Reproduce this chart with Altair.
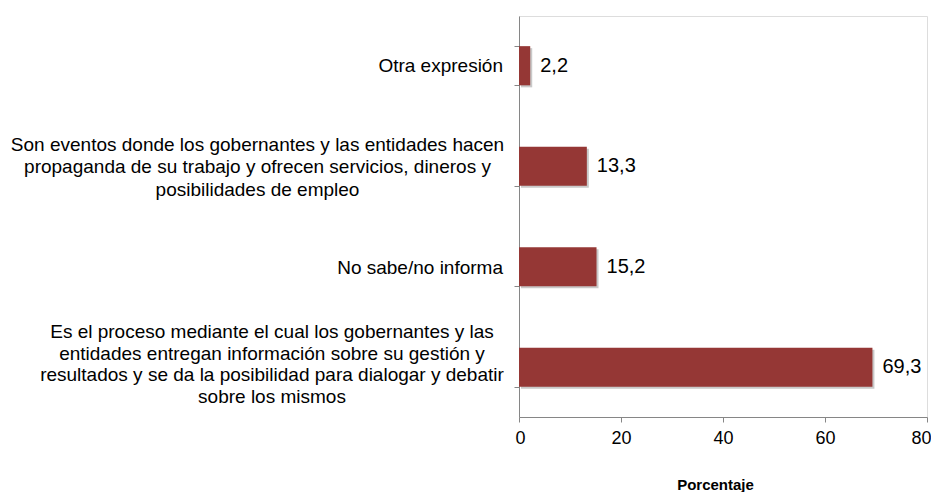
import altair as alt
import pandas as pd

categories = [
    "Otra expresión",
    "Son eventos donde los gobernantes y las entidades hacen|propaganda de su trabajo y  ofrecen servicios, dineros y|posibilidades de empleo",
    "No sabe/no informa",
    "Es el proceso mediante el cual los gobernantes y las|entidades entregan información sobre su gestión y|resultados y se da la posibilidad para dialogar y debatir|sobre los mismos",
]
values = [2.2, 13.3, 15.2, 69.3]
value_labels = [f"{v:.1f}".replace(".", ",") for v in values]
x_ticks = [0, 20, 40, 60, 80]

# label styles (alignment / offsets / line height) per category
label_align = ["right", "center", "right", "center"]
label_baseline = ["middle", "alphabetic", "middle", "alphabetic"]
label_dx = [-16, -261.5, -16, -247]
label_dy = [0, -15, 1, -29]
label_lh = [22, 22.2, 22, 21.5]

FONT = "Liberation Sans"
AXIS_GRAY = "#868686"
BAR_RED = "#953735"

df = pd.DataFrame({"cat": categories, "value": values, "label": value_labels})

y_enc = alt.Y(
    "cat:N",
    sort=categories,
    scale=alt.Scale(paddingInner=0.61, paddingOuter=0.3),
    axis=alt.Axis(
        title=None,
        labels=False,
        tickBand="extent",
        tickSize=5,
        tickColor=AXIS_GRAY,
        domainColor=AXIS_GRAY,
        grid=False,
    ),
)
x_enc = alt.X(
    "value:Q",
    scale=alt.Scale(domain=[0, 80]),
    axis=alt.Axis(
        values=x_ticks,
        title="Porcentaje",
        grid=False,
        labelFlush=True,
        labelFlushOffset=4,
        tickSize=5,
        tickColor=AXIS_GRAY,
        domainColor=AXIS_GRAY,
        labelFont=FONT,
        labelFontSize=18,
        labelColor="black",
        labelPadding=7,
        titleFont=FONT,
        titleFontSize=15,
        titleFontWeight="bold",
        titleColor="black",
        titlePadding=30,
        titleX=196,
    ),
)

shadow = alt.Chart(df).mark_bar(color="#c9c9c9", xOffset=2, yOffset=2).encode(x=x_enc, y=y_enc)
bars = alt.Chart(df).mark_bar(color=BAR_RED).encode(x=x_enc, y=y_enc)
vals = alt.Chart(df).mark_text(
    align="left", baseline="middle", dx=10, fontSize=20, font=FONT, color="black"
).encode(x=x_enc, y=y_enc, text="label:N")

layers = [shadow, bars, vals]
for i, cat in enumerate(categories):
    layers.append(
        alt.Chart(df)
        .transform_filter(alt.datum.cat == cat)
        .mark_text(
            align=label_align[i],
            baseline=label_baseline[i],
            dx=label_dx[i],
            dy=label_dy[i],
            lineBreak="|",
            lineHeight=label_lh[i],
            fontSize=19,
            font=FONT,
            color="black",
        )
        .encode(x=alt.value(0), y=y_enc, text="cat:N")
    )

chart = (
    alt.layer(*layers)
    .properties(
        width=408,
        height=401,
        padding={"left": 511, "top": 8, "right": 4, "bottom": 75},
        autosize=alt.AutoSizeParams(type="none"),
    )
    .configure_view(stroke=None)
    .configure(background="white")
)

chart.save("out.html", embed_options={"renderer": "svg", "actions": False})
